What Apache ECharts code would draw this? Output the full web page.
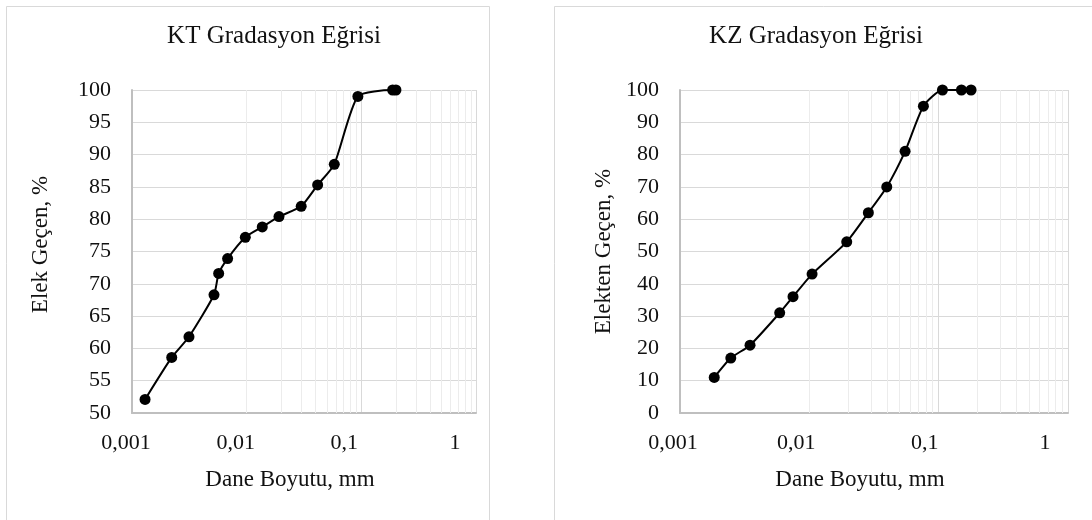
<!DOCTYPE html>
<html>
<head>
<meta charset="utf-8">
<script src="https://cdn.jsdelivr.net/npm/echarts@6/dist/echarts.min.js"></script>
<style>html,body{margin:0;padding:0;background:#fff;}#c{width:1092px;height:520px;}</style>
</head>
<body>
<div id="c"></div>
<script>
// ---- data ----
const ktSize = [0.0013, 0.00222, 0.00314, 0.00519, 0.0057, 0.00682, 0.00973, 0.01368, 0.01914, 0.0299, 0.0416, 0.0581, 0.0933, 0.1875, 0.2004];
const ktPass = [52.1, 58.6, 61.8, 68.3, 71.6, 73.9, 77.2, 78.8, 80.4, 82.0, 85.3, 88.5, 99.0, 100, 100];
const kzSize = [0.00184, 0.00247, 0.00348, 0.0059, 0.00748, 0.0105, 0.01946, 0.0286, 0.0397, 0.055, 0.0762, 0.107, 0.15, 0.178];
const kzPass = [11, 17, 21, 31, 36, 43, 53, 62, 70, 81, 95, 100, 100, 100];
const xTickLabels = ['0,001', '0,01', '0,1', '1'];
const minorGrid = [0.002,0.003,0.004,0.005,0.006,0.007,0.008,0.009,
                   0.02,0.03,0.04,0.05,0.06,0.07,0.08,0.09,
                   0.2,0.3,0.4,0.5,0.6,0.7,0.8,0.9];
const titles = ['KT Gradasyon Eğrisi', 'KZ Gradasyon Eğrisi'];
const xName = 'Dane Boyutu, mm';
const yNames = ['Elek Geçen, %', 'Elekten Geçen, %'];

const FONT = '"Liberation Serif", "Times New Roman", serif';
const TXT = '#111';

function pairs(xs, ys) { return xs.map((x, i) => [x, ys[i]]); }

function xLabelFmt(v) {
  const i = Math.round(Math.log10(v)) + 3;
  return '{t' + i + '|' + xTickLabels[i] + '}';
}
const richL = {t0:{padding:[0,12,0,0]}, t1:{padding:[0,22,0,0]}, t2:{padding:[0,34,0,0]}, t3:{padding:[0,42,0,0]}};
const richR = {t0:{padding:[0,14,0,0]}, t1:{padding:[0,26,0,0]}, t2:{padding:[0,28,0,0]}, t3:{padding:[0,46,0,0]}};

function xAxisCfg(gi, rich) {
  return {
    type: 'log', logBase: 10, min: 0.001, max: 1, gridIndex: gi,
    name: xName, nameLocation: 'middle', nameGap: 55,
    nameTextStyle: {fontFamily: FONT, fontSize: 23, color: TXT, padding: [0, 28, 0, 0]},
    axisLine: {show: true, lineStyle: {color: '#bfbfbf', width: 2}},
    axisTick: {show: false},
    axisLabel: {fontFamily: FONT, fontSize: 22, color: TXT, margin: 19, formatter: xLabelFmt, rich: rich},
    splitLine: {show: true, lineStyle: {color: '#d9d9d9', width: 1}}
  };
}
function yAxisCfg(gi, min, interval, name, gap, pad) {
  return {
    type: 'value', min: min, max: 100, interval: interval, gridIndex: gi,
    name: name, nameLocation: 'middle', nameGap: gap, nameRotate: 90,
    nameTextStyle: {fontFamily: FONT, fontSize: 23, color: TXT, padding: pad},
    axisLine: {show: true, lineStyle: {color: '#bfbfbf', width: 2}},
    axisTick: {show: false},
    axisLabel: {fontFamily: FONT, fontSize: 22, color: TXT, margin: 21},
    splitLine: {show: true, lineStyle: {color: '#d9d9d9', width: 1}}
  };
}
function minorSeries(gi) {
  return {
    type: 'line', xAxisIndex: gi, yAxisIndex: gi, data: [], z: 1, silent: true,
    markLine: {
      silent: true, symbol: ['none', 'none'], label: {show: false}, animation: false,
      lineStyle: {color: '#ececec', type: 'solid', width: 1},
      data: minorGrid.map(v => ({xAxis: v}))
    }
  };
}
function dataSeries(gi, d) {
  return {
    type: 'line', xAxisIndex: gi, yAxisIndex: gi, data: d, z: 5,
    smooth: 0.2,
    symbol: 'circle', symbolSize: 11,
    itemStyle: {color: '#000'},
    lineStyle: {color: '#000', width: 2}
  };
}

const chart = echarts.init(document.getElementById('c'), null, {renderer: 'canvas'});
chart.setOption({
  animation: false,
  backgroundColor: '#fff',
  grid: [
    {left: 132, right: 616, top: 90, bottom: 107},
    {left: 680, right: 24, top: 90, bottom: 107}
  ],
  xAxis: [xAxisCfg(0, richL), xAxisCfg(1, richR)],
  yAxis: [yAxisCfg(0, 50, 5, yNames[0], 80, [0, 0, 0, 14]), yAxisCfg(1, 0, 10, yNames[1], 65, [0, 0, 0, 0])],
  series: [
    minorSeries(0), minorSeries(1),
    dataSeries(0, pairs(ktSize, ktPass)),
    dataSeries(1, pairs(kzSize, kzPass))
  ],
  graphic: [
    {type: 'rect', silent: true, z: -10, shape: {x: 6.5, y: 6.5, width: 483, height: 700}, style: {fill: 'none', stroke: '#d9d9d9', lineWidth: 1}},
    {type: 'rect', silent: true, z: -10, shape: {x: 554.5, y: 6.5, width: 700, height: 700}, style: {fill: 'none', stroke: '#d9d9d9', lineWidth: 1}},
    {type: 'text', x: 274, y: 36, style: {text: titles[0], fontFamily: FONT, fontSize: 25, fill: TXT, textAlign: 'center', textVerticalAlign: 'middle'}},
    {type: 'text', x: 816, y: 36, style: {text: titles[1], fontFamily: FONT, fontSize: 25, fill: TXT, textAlign: 'center', textVerticalAlign: 'middle'}}
  ]
});
</script>
</body>
</html>
